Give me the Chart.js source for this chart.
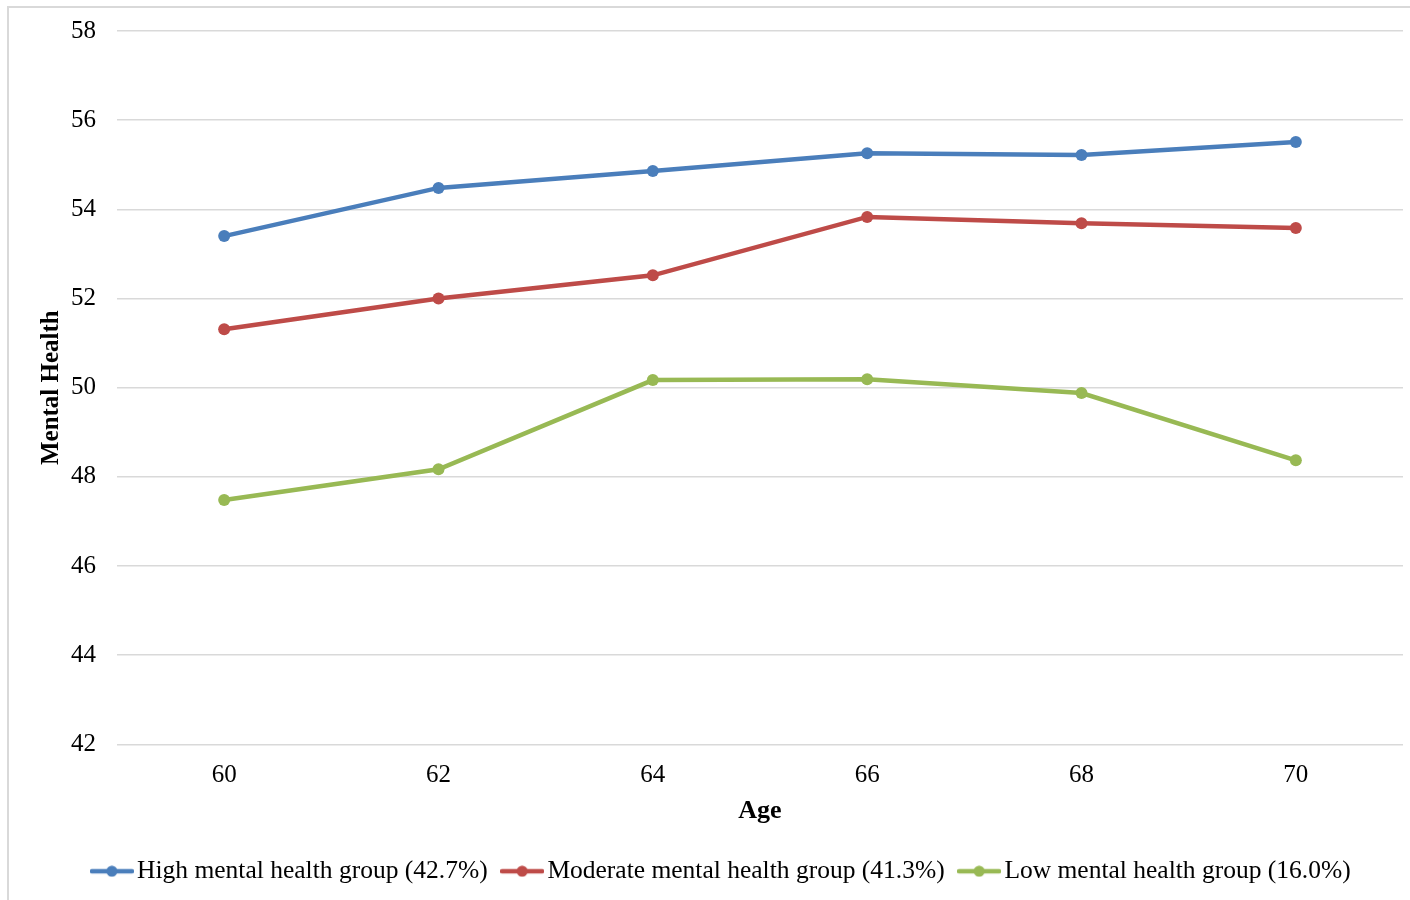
<!DOCTYPE html>
<html>
<head>
<meta charset="utf-8">
<script src="https://cdn.jsdelivr.net/npm/chart.js@4.4.1/dist/chart.umd.min.js"></script>
<style>
html,body{margin:0;padding:0;background:#fff;}
#wrap{position:absolute;left:0;top:0;width:1410px;height:900px;}
</style>
</head>
<body>
<div id="wrap"><canvas id="c" width="1410" height="900"></canvas></div>
<script>
const ages = ['60', '62', '64', '66', '68', '70'];
const highGroup = [53.40, 54.48, 54.86, 55.26, 55.22, 55.51];
const moderateGroup = [51.31, 52.00, 52.52, 53.83, 53.69, 53.58];
const lowGroup = [47.48, 48.17, 50.17, 50.19, 49.88, 48.37];
const seriesNames = ['High mental health group (42.7%)', 'Moderate mental health group (41.3%)', 'Low mental health group (16.0%)'];
const yTitle = 'Mental Health';
const xTitle = 'Age';

const colors = ['#4A7EBB', '#BE4B48', '#98B954'];
const FONT = "'Liberation Serif', 'Times New Roman', serif";

function legendMarker(color) {
  const cv = document.createElement('canvas');
  cv.width = 44; cv.height = 12;
  const g = cv.getContext('2d');
  g.strokeStyle = color; g.lineWidth = 4.5; g.lineCap = 'round';
  g.beginPath(); g.moveTo(2, 6); g.lineTo(42, 6); g.stroke();
  g.fillStyle = color;
  g.beginPath(); g.arc(22, 6, 5.5, 0, Math.PI * 2); g.fill();
  return cv;
}
const markers = colors.map(legendMarker);

const framePlugin = {
  id: 'frame',
  beforeDraw(chart) {
    const ctx = chart.ctx;
    ctx.save();
    ctx.strokeStyle = '#d9d9d9';
    ctx.lineWidth = 2;
    ctx.beginPath();
    ctx.moveTo(8, 900); ctx.lineTo(8, 7); ctx.lineTo(1410, 7);
    ctx.stroke();
    ctx.restore();
  }
};

const datasets = [highGroup, moderateGroup, lowGroup].map((d, i) => ({
  label: seriesNames[i],
  data: d,
  borderColor: colors[i],
  backgroundColor: colors[i],
  borderWidth: 4.5,
  pointRadius: 6,
  pointHoverRadius: 6,
  pointBackgroundColor: colors[i],
  pointBorderWidth: 0,
  tension: 0,
  fill: false
}));

new Chart(document.getElementById('c'), {
  type: 'line',
  data: { labels: ages, datasets },
  plugins: [framePlugin],
  options: {
    responsive: false,
    animation: false,
    layout: { padding: { left: 47, right: 7, top: 31, bottom: 6 } },
    plugins: {
      tooltip: { enabled: false },
      legend: {
        position: 'bottom',
        labels: {
          font: { family: FONT, size: 25.5 },
          color: '#000',
          usePointStyle: true,
          pointStyleWidth: 25,
          padding: 22,
          generateLabels(chart) {
            return chart.data.datasets.map((ds, i) => ({
              text: ds.label,
              fillStyle: colors[i],
              strokeStyle: colors[i],
              lineWidth: 0,
              pointStyle: markers[i],
              datasetIndex: i,
              hidden: false
            }));
          }
        }
      }
    },
    scales: {
      x: {
        offset: true,
        grid: { display: false, drawTicks: false },
        border: { display: false },
        ticks: { font: { family: FONT, size: 25 }, color: '#000', padding: 16 },
        title: { display: true, text: xTitle, font: { family: FONT, size: 26, weight: 'bold' }, color: '#000', padding: { top: -11, bottom: 10 } }
      },
      y: {
        min: 42, max: 58,
        ticks: { stepSize: 2, font: { family: FONT, size: 25, lineHeight: 0.8 }, color: '#000', padding: 21 },
        grid: { color: '#d9d9d9', lineWidth: 1.5, drawTicks: false },
        border: { display: false },
        title: { display: true, text: yTitle, font: { family: FONT, size: 25, weight: 'bold' }, color: '#000', padding: { top: -10, bottom: 0 } },
        afterFit(scale) { scale.width = 70; }
      }
    }
  }
});
</script>
</body>
</html>
